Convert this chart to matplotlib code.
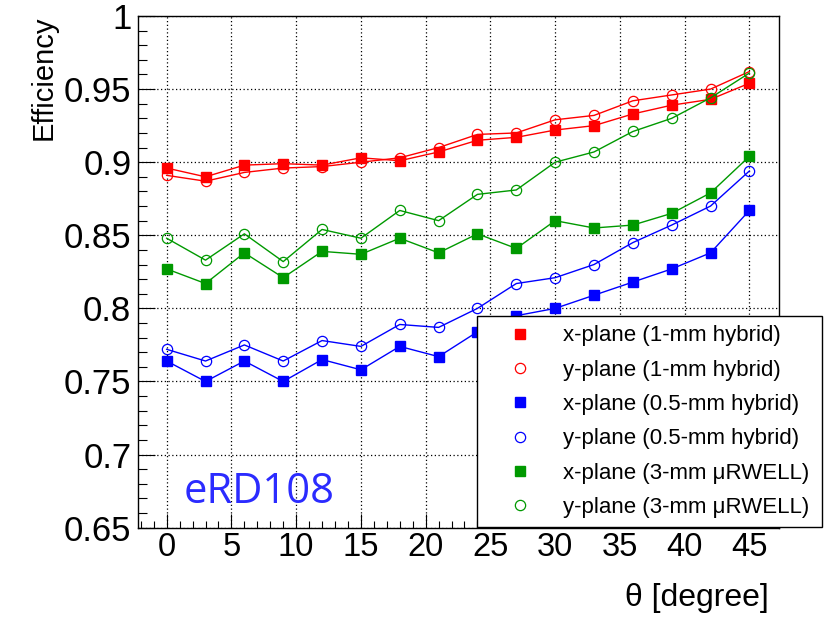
import matplotlib
matplotlib.use("Agg")
import matplotlib.pyplot as plt
from matplotlib.lines import Line2D
from matplotlib.ticker import MultipleLocator

plt.rcParams['font.family'] = ['Liberation Sans', 'DejaVu Sans']

# angle points
theta = [0, 3, 6, 9, 12, 15, 18, 21, 24, 27, 30, 33, 36, 39, 42, 45]

# efficiencies
x_1mm = [0.896, 0.890, 0.898, 0.899, 0.898, 0.903, 0.901, 0.907,
         0.915, 0.917, 0.922, 0.925, 0.933, 0.939, 0.943, 0.954]
y_1mm = [0.891, 0.887, 0.893, 0.896, 0.897, 0.900, 0.903, 0.910,
         0.919, 0.920, 0.929, 0.932, 0.942, 0.946, 0.950, 0.962]
x_05mm = [0.764, 0.750, 0.764, 0.750, 0.765, 0.758, 0.774, 0.767,
          0.784, 0.795, 0.800, 0.809, 0.818, 0.827, 0.838, 0.867]
y_05mm = [0.772, 0.764, 0.775, 0.764, 0.778, 0.774, 0.789, 0.787,
          0.800, 0.817, 0.821, 0.830, 0.845, 0.857, 0.870, 0.894]
x_3mm = [0.827, 0.817, 0.838, 0.821, 0.839, 0.837, 0.848, 0.838,
         0.851, 0.841, 0.860, 0.855, 0.857, 0.865, 0.879, 0.904]
y_3mm = [0.848, 0.833, 0.851, 0.832, 0.854, 0.848, 0.867, 0.860,
         0.878, 0.881, 0.900, 0.907, 0.921, 0.930, 0.944, 0.961]

labels = ['x-plane (1-mm hybrid)', 'y-plane (1-mm hybrid)',
          'x-plane (0.5-mm hybrid)', 'y-plane (0.5-mm hybrid)',
          'x-plane (3-mm \u03bcRWELL)', 'y-plane (3-mm \u03bcRWELL)']

red = '#ff0000'
blue = '#0000ff'
green = '#009900'


def main():
    fig = plt.figure(figsize=(8.33, 6.25), dpi=100)
    ax = fig.add_axes([0.1651, 0.1557, 0.7695, 0.8187])

    series = [
        (x_1mm, red, True), (y_1mm, red, False),
        (x_05mm, blue, True), (y_05mm, blue, False),
        (x_3mm, green, True), (y_3mm, green, False),
    ]
    handles = []
    for vals, col, filled in series:
        if filled:
            kw = dict(marker='s', markersize=7.2, markerfacecolor=col,
                      markeredgecolor=col)
        else:
            kw = dict(marker='o', markersize=7.4, markerfacecolor='none',
                      markeredgecolor=col, markeredgewidth=0.9)
        ax.plot(theta, vals, color=col, lw=1.0, **kw)
        handles.append(Line2D([], [], ls='none', **kw))

    ax.set_xlim(-2.25, 47.25)
    ax.set_ylim(0.65, 1.0)
    ax.xaxis.set_major_locator(MultipleLocator(5))
    ax.xaxis.set_minor_locator(MultipleLocator(1))
    ax.yaxis.set_minor_locator(MultipleLocator(0.01))
    ax.set_yticks([0.65, 0.7, 0.75, 0.8, 0.85, 0.9, 0.95, 1.0])
    ax.set_yticklabels(['0.65', '0.7', '0.75', '0.8', '0.85', '0.9', '0.95', '1'])

    ax.tick_params(axis='x', which='major', direction='in', length=10,
                   width=0.8, labelsize=23.5, pad=3)
    ax.tick_params(axis='x', which='minor', direction='in', length=5, width=0.8)
    ax.tick_params(axis='y', which='major', direction='in', length=12,
                   width=0.8, labelsize=25, pad=4.5)
    ax.tick_params(axis='y', which='minor', direction='in', length=6.5, width=0.8)

    ax.grid(True, which='major', color='black', lw=0.9, ls=(0, (1, 2)))
    for sp in ax.spines.values():
        sp.set_linewidth(1.0)
        sp.set_color('black')

    ax.set_ylabel('Efficiency', fontsize=21, loc='top')
    ax.yaxis.set_label_coords(-0.1253, 1.0)
    ax.set_xlabel('\u03b8 [degree]', fontsize=23, loc='right')
    ax.xaxis.set_label_coords(0.984, -0.108)

    fig.legend(handles, labels, loc='upper left',
               bbox_to_anchor=(0.5726, 0.1616, 0.4142, 0.3328),
               mode='expand', fontsize=16, frameon=True, fancybox=False,
               edgecolor='black', framealpha=1.0, borderpad=0.42,
               handlelength=3.03, handletextpad=0.42, labelspacing=0.6,
               borderaxespad=0.0)

    fig.text(0.221, 0.1947, 'eRD108', color='#2b2bff', fontsize=30,
             family=['Open Sans', 'DejaVu Sans'], va='baseline')

    fig.savefig('out.png', dpi=100)


if __name__ == "__main__":
    main()
